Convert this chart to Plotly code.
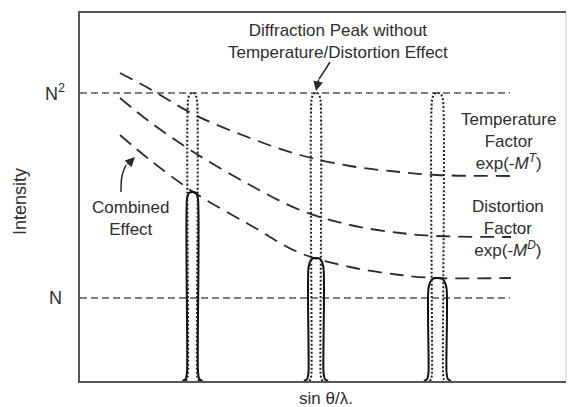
import plotly.graph_objects as go

# ---- data (x in arbitrary sin(theta)/lambda units, y in arbitrary intensity units) ----
level_N = 83
level_N2 = 288
ref_line_x = [0, 430]

curve_x = [40, 70, 115, 170, 220, 270, 320, 357, 431]
temperature_y = [308, 292, 266, 243, 226, 215, 209, 206, 205]
distortion_y = [283, 259, 228, 196, 171, 156, 148, 145, 144]
combined_y = [246, 221, 188, 156, 128, 114, 106, 103, 103]

peak_centers = [112.5, 236, 357.5]
ideal_height = 288
ideal_halfwidth = [4.5, 4.5, 5.5]
combined_heights = [189, 123, 103]
combined_halfwidth = [5.5, 7.5, 9]


def peak_outline(c, hw, h, flare, rnd):
    xs = [c - hw - flare, c - hw - flare * 0.3, c - hw, c - hw, c - hw * 0.6, c,
          c + hw * 0.6, c + hw, c + hw, c + hw + flare * 0.3, c + hw + flare]
    ys = [0, 2, 9, h - rnd, h - rnd * 0.12, h,
          h - rnd * 0.12, h - rnd, 9, 2, 0]
    return xs, ys


fig = go.Figure()

dark = "#2b2b2b"
# horizontal reference lines
for lvl in [level_N, level_N2]:
    fig.add_trace(go.Scatter(x=ref_line_x, y=[lvl, lvl], mode="lines",
                             line=dict(color="#555555", width=1.6, dash="7px,4px"),
                             hoverinfo="skip", showlegend=False))

# decay curves
for ys in [temperature_y, distortion_y, combined_y]:
    fig.add_trace(go.Scatter(x=curve_x, y=ys, mode="lines",
                             line=dict(color=dark, width=1.8, dash="14px,8px", shape="spline", smoothing=1.0),
                             hoverinfo="skip", showlegend=False))

# combined (solid) peaks
for c, h, hw in zip(peak_centers, combined_heights, combined_halfwidth):
    xs, ys = peak_outline(c, hw, h, 4.5, 10 if hw > 7 else 7)
    fig.add_trace(go.Scatter(x=xs, y=ys, mode="lines",
                             line=dict(color="#111111", width=2, shape="spline", smoothing=0.6),
                             hoverinfo="skip", showlegend=False))

# ideal (dotted) peaks
for c, hw in zip(peak_centers, ideal_halfwidth):
    xs, ys = peak_outline(c, hw, ideal_height, 2.5, 7)
    fig.add_trace(go.Scatter(x=xs, y=ys, mode="lines",
                             line=dict(color="#222222", width=2, dash="2px,2px", shape="spline", smoothing=0.6),
                             hoverinfo="skip", showlegend=False))

# curved arrow shafts
fig.add_trace(go.Scatter(x=[250, 245, 239], y=[319, 311, 302], mode="lines",
                         line=dict(color=dark, width=1.5, shape="spline"),
                         hoverinfo="skip", showlegend=False))
fig.add_trace(go.Scatter(x=[41, 42, 46], y=[189, 205, 216], mode="lines",
                         line=dict(color=dark, width=1.5, shape="spline"),
                         hoverinfo="skip", showlegend=False))

font = dict(family="Liberation Sans, Arial, sans-serif", size=17, color="#2e2e2e")
big = dict(family="Liberation Sans, Arial, sans-serif", size=18, color="#2e2e2e")
ann = []
ann.append(dict(x=258, y=340, text="Diffraction Peak without<br>Temperature/Distortion Effect",
                showarrow=False, font=font, xanchor="center", yanchor="middle"))
ann.append(dict(x=236, y=290, ax=239, ay=303, axref="x", ayref="y", text="", showarrow=True,
                arrowhead=2, arrowsize=1.3, arrowwidth=1.5, arrowcolor=dark))
ann.append(dict(x=55, y=224, ax=46, ay=215, axref="x", ayref="y", text="", showarrow=True,
                arrowhead=2, arrowsize=1.3, arrowwidth=1.5, arrowcolor=dark))
ann.append(dict(x=428, y=240, text="Temperature<br>Factor<br>exp(-<i>M</i><sup><i>T</i></sup>)",
                showarrow=False, font=font, xanchor="center", yanchor="middle"))
ann.append(dict(x=428, y=153, text="Distortion<br>Factor<br>exp(-<i>M</i><sup><i>D</i></sup>)",
                showarrow=False, font=font, xanchor="center", yanchor="middle"))
ann.append(dict(x=51, y=163, text="Combined<br>Effect",
                showarrow=False, font=font, xanchor="center", yanchor="middle"))
ann.append(dict(x=0, y=level_N2 + 1, text="N<sup>2</sup>", showarrow=False, font=big,
                xanchor="right", yanchor="middle", xshift=-13))
ann.append(dict(x=0, y=level_N, text="N", showarrow=False, font=big,
                xanchor="right", yanchor="middle", xshift=-16))
ann.append(dict(xref="paper", x=-60 / 486, y=179, text="Intensity", textangle=-90,
                showarrow=False, font=big, xanchor="center", yanchor="middle"))
ann.append(dict(x=246, yref="paper", y=-17 / 368, text="sin θ/λ.", showarrow=False,
                font=font, xanchor="center", yanchor="middle"))

fig.update_layout(
    width=568, height=407,
    margin=dict(l=80, r=2, t=13, b=26),
    paper_bgcolor="white", plot_bgcolor="white",
    annotations=ann,
    xaxis=dict(range=[0, 486], showgrid=False, zeroline=False, showticklabels=False, ticks="",
               showline=True, linecolor="#555555", linewidth=2, mirror=True),
    yaxis=dict(range=[0, 368], showgrid=False, zeroline=False, showticklabels=False, ticks="",
               showline=True, linecolor="#555555", linewidth=2),
    shapes=[dict(type="line", xref="paper", yref="paper", x0=1, x1=1, y0=0, y1=1,
                 line=dict(color="#cccccc", width=1))],
)

fig.write_html("out.html")
